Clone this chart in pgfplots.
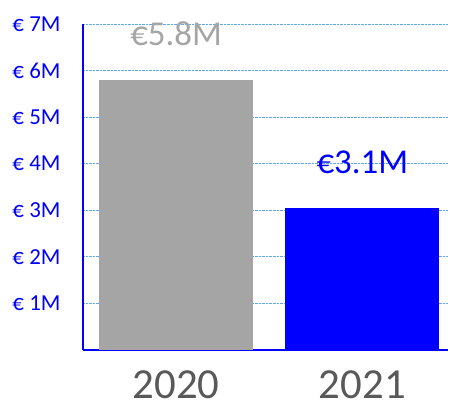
\documentclass[border=0pt]{standalone}
\usepackage{fontspec}
\setmainfont{Carlito}
\usepackage{pgfplots}
\pgfplotsset{compat=1.18}

\definecolor{bargray}{HTML}{A5A5A5}
\definecolor{barblue}{HTML}{0000FF}
\definecolor{yeargray}{HTML}{595959}
\definecolor{gridblue}{HTML}{5FA8F0}

\begin{document}
\begin{tikzpicture}
\begin{axis}[
    name=ax,
    scale only axis,
    width=365bp, height=326bp,
    xmin=-0.5, xmax=1.46,
    ymin=0, ymax=7,
    ybar, bar width=154bp, bar shift=0pt,
    axis x line*=bottom, axis y line*=left,
    axis line style={barblue, line width=1.6bp},
    xtick={0,1}, xticklabels={2020,2021},
    ytick={1,...,7},
    yticklabels={€ 1M,€ 2M,€ 3M,€ 4M,€ 5M,€ 6M,€ 7M},
    major tick length=0pt,
    ymajorgrids,
    major grid style={gridblue, densely dotted, line width=0.8bp},
    yticklabel style={font=\fontsize{23}{27}\selectfont, text=barblue, anchor=east},
    xticklabel style={font=\fontsize{43}{50}\selectfont, text=yeargray, anchor=base},
    xticklabel shift=48bp,
    yticklabel shift=19bp,
    point meta=explicit symbolic,
    nodes near coords,
    nodes near coords style={font=\fontsize{35}{40}\selectfont, anchor=base, yshift=34bp},
]
\addplot[fill=bargray, draw=none, nodes near coords style={text=bargray}]
    coordinates {(0,5.8) [€5.8M]};
\addplot[fill=barblue, draw=none, nodes near coords style={text=barblue}]
    coordinates {(1,3.05) [€3.1M]};
\end{axis}
\pgfresetboundingbox
\path ([shift={(-83bp,-55bp)}]ax.south west) rectangle ++(450bp,405bp);
\end{tikzpicture}
\end{document}
